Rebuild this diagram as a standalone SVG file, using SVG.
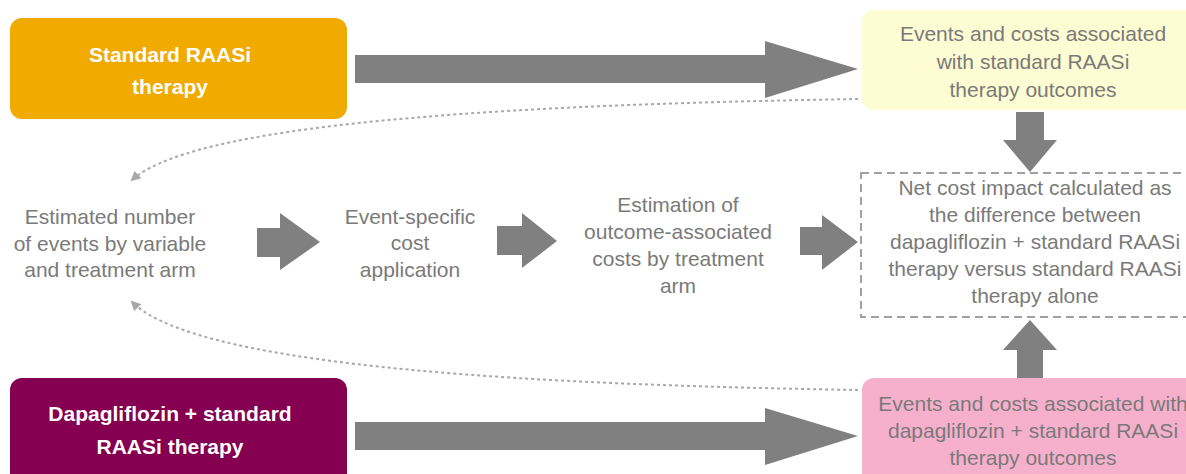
<svg xmlns="http://www.w3.org/2000/svg" width="1186" height="474" viewBox="0 0 1186 474">
<style>
.t{font-family:"Liberation Sans",Arial,sans-serif;font-size:21px;fill:#7a7a7a;text-anchor:middle}
.b{font-family:"Liberation Sans",Arial,sans-serif;font-size:21px;font-weight:bold;fill:#ffffff;text-anchor:middle}
.arr{fill:#808080}
.dot{fill:none;stroke:#a8a8a8;stroke-width:2;stroke-dasharray:3 3}
</style>
<defs>
<marker id="ah" viewBox="0 0 10 10" refX="8" refY="5" markerWidth="5" markerHeight="5" orient="auto" markerUnits="strokeWidth">
<path d="M0,0 L10,5 L0,10 z" fill="#a8a8a8"/>
</marker>
</defs>
<rect width="1186" height="474" fill="#ffffff"/>
<g id="connectors">
<polygon class="arr" points="355,55 765,55 765,41 858,69 765,98 765,83 355,83"/>
<polygon class="arr" points="355,422 765,422 765,408 858,436 765,465 765,450 355,450"/>
<polygon class="arr" points="257,228 280,228 280,213 320,242 280,270 280,257 257,257"/>
<polygon class="arr" points="497,226 522,226 522,213 557,241 522,268 522,255 497,255"/>
<polygon class="arr" points="800,227 822,227 822,215 858,242 822,270 822,255 800,255"/>
<polygon class="arr" points="1016,112 1044,112 1044,140 1057,140 1030,172 1003,140 1016,140"/>
<polygon class="arr" points="1017,380 1043,380 1043,350 1057,350 1030,320 1003,350 1017,350"/>
<path class="dot" d="M858,99 C560,104 200,118 132,180" marker-end="url(#ah)"/>
<path class="dot" d="M858,390 C560,385 200,370 132,302" marker-end="url(#ah)"/>
</g>
<g id="standard">
<rect x="10" y="18" width="337" height="101" rx="12" fill="#f0aa00"/>
<text class="b" x="170" y="62">Standard RAASi</text>
<text class="b" x="170" y="94">therapy</text>
</g>
<g id="dapa">
<rect x="10" y="378" width="337" height="110" rx="12" fill="#850050"/>
<text class="b" x="170" y="421">Dapagliflozin + standard</text>
<text class="b" x="170" y="454">RAASi therapy</text>
</g>
<g id="standard-outcomes">
<rect x="862" y="10" width="340" height="100" rx="12" fill="#fdfcd2"/>
<text class="t" x="1033" y="41">Events and costs associated</text>
<text class="t" x="1033" y="69">with standard RAASi</text>
<text class="t" x="1033" y="97">therapy outcomes</text>
</g>
<g id="dapa-outcomes">
<rect x="862" y="378" width="340" height="110" rx="12" fill="#f7b0cc"/>
<text class="t" x="1033" y="411">Events and costs associated with</text>
<text class="t" x="1033" y="438">dapagliflozin + standard RAASi</text>
<text class="t" x="1033" y="465">therapy outcomes</text>
</g>
<g id="net-cost">
<rect x="861" y="173" width="340" height="144" fill="none" stroke="#a0a0a0" stroke-width="2" stroke-dasharray="8 5"/>
<text class="t" x="1035" y="195">Net cost impact calculated as</text>
<text class="t" x="1035" y="222">the difference between</text>
<text class="t" x="1035" y="249">dapagliflozin + standard RAASi</text>
<text class="t" x="1035" y="276">therapy versus standard RAASi</text>
<text class="t" x="1035" y="303">therapy alone</text>
</g>
<g id="estimated-events">
<text class="t" x="110" y="224">Estimated number</text>
<text class="t" x="110" y="251">of events by variable</text>
<text class="t" x="110" y="277">and treatment arm</text>
</g>
<g id="cost-application">
<text class="t" x="410" y="224">Event-specific</text>
<text class="t" x="410" y="250">cost</text>
<text class="t" x="410" y="277">application</text>
</g>
<g id="outcome-costs">
<text class="t" x="678" y="212">Estimation of</text>
<text class="t" x="678" y="239">outcome-associated</text>
<text class="t" x="678" y="266">costs by treatment</text>
<text class="t" x="678" y="293">arm</text>
</g>
</svg>
